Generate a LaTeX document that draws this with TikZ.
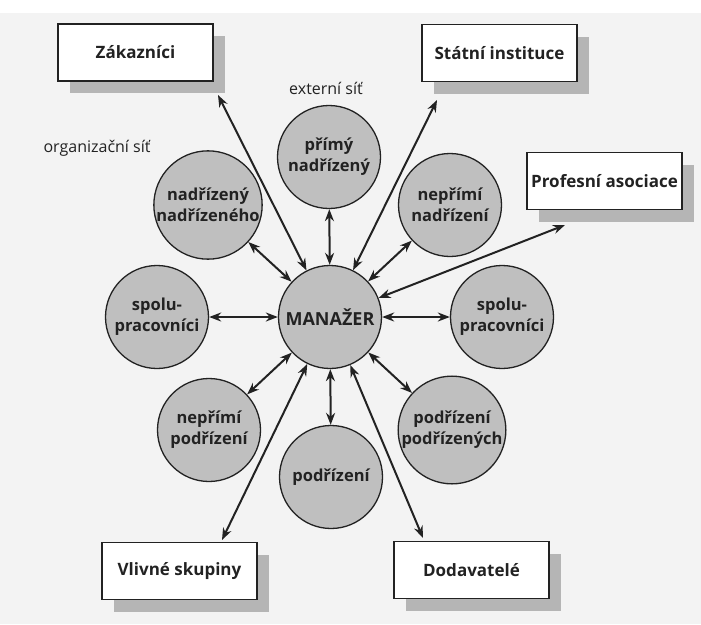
\documentclass[tikz,border=0pt]{standalone}
\usepackage{fontspec}
\setmainfont{Open Sans}
\usetikzlibrary{arrows.meta}
\definecolor{circfill}{HTML}{BFBFBF}
\definecolor{shad}{HTML}{B5B5B5}
\definecolor{ink}{HTML}{222222}
\definecolor{paper}{HTML}{F3F3F3}
\begin{document}
\begin{tikzpicture}[x=1pt,y=-1pt,
  circ/.style={circle, draw=ink, line width=1.3pt, fill=circfill, minimum size=103pt, inner sep=0pt, align=center, font=\bfseries\fontsize{16.5}{21}\selectfont, text=ink},
  box/.style={draw=ink, line width=1.3pt, fill=white, minimum width=155pt, minimum height=57pt, inner sep=0pt, font=\bfseries\fontsize{17}{20}\selectfont, text=ink},
  shadowbox/.style={fill=shad, minimum width=155pt, minimum height=57pt, inner sep=0pt},
  link/.style={draw=ink, line width=2pt, {Stealth[length=12pt,width=9pt]}-{Stealth[length=12pt,width=9pt]}},
  lab/.style={font=\fontsize{16}{19}\selectfont, text=ink}
]
\useasboundingbox (0,0) rectangle (701,624);
\fill[white] (0,0) rectangle (701,624);
\fill[paper] (0,13) rectangle (701,624);
% shadows
\node[shadowbox] (zaksh) at (147.5,64.5) {};
\node[shadowbox] (statsh) at (511.5,65) {};
\node[shadowbox] (profsh) at (616.5,193) {};
\node[shadowbox] (vlivsh) at (191.5,583) {};
\node[shadowbox] (dodsh) at (483.5,582) {};
% boxes
\node[box] (zak) at (135.5,52.5) {Zákazníci};
\node[box] (stat) at (499.5,53) {Státní instituce};
\node[box] (prof) at (604.5,181) {Profesní asociace};
\node[box] (vliv) at (179.5,571) {Vlivné skupiny};
\node[box] (dod) at (471.5,570) {Dodavatelé};
% labels
\node[lab] (ext) at (326,88) {externí síť};
\node[lab] (org) at (97,148) {organizační síť};
% circles
\node[circ, font=\bfseries\fontsize{18}{21}\selectfont] (man) at (330,317) {MANAŽER};
\node[circ] (pn) at (329,157) {přímý\\nadřízený};
\node[circ] (nn) at (208,205) {nadřízený\\nadřízeného};
\node[circ] (np) at (450,205) {nepřímí\\nadřízení};
\node[circ] (sl) at (157,317) {spolu-\\pracovníci};
\node[circ] (sr) at (502,317) {spolu-\\pracovníci};
\node[circ] (npp) at (209,430) {nepřímí\\podřízení};
\node[circ] (pp) at (452,430) {podřízení\\podřízených};
\node[circ] (pod) at (331,477) {podřízení};
% arrow tips at boxes
\coordinate (zt) at (218,95);
\coordinate (st) at (437,100);
\coordinate (pt) at (565,225);
\coordinate (vt) at (222,540);
\coordinate (dt) at (423,538);
% connectors
\foreach \c in {pn,nn,np,sl,sr,npp,pp,pod} \draw[link] (man) -- (\c);
\foreach \c in {zt,st,pt,vt,dt} \draw[link] (man) -- (\c);
\end{tikzpicture}
\end{document}
